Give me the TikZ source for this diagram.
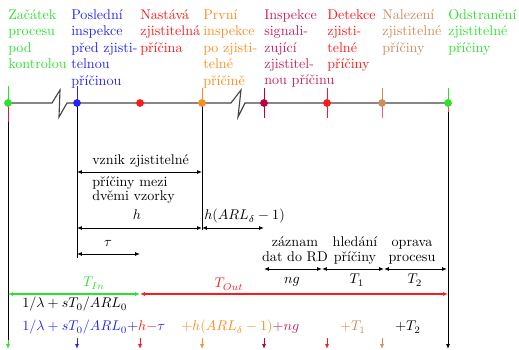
\documentclass[tikz,border=0pt]{standalone}
\usepackage{fontspec}
\usetikzlibrary{arrows.meta}
\definecolor{cgreen}{RGB}{45,225,45}
\definecolor{cblue}{RGB}{35,35,255}
\definecolor{cred}{RGB}{255,25,25}
\definecolor{corange}{RGB}{255,140,30}
\definecolor{crasp}{RGB}{205,30,90}
\definecolor{craspd}{RGB}{185,0,60}
\definecolor{ctan}{RGB}{205,140,90}
\definecolor{cline}{RGB}{70,70,70}
\tikzset{
  x=0.71pt, y=-0.71pt,
  toplabel/.style={anchor=north west, inner sep=0pt, align=left, font=\fontsize{10}{11.7}\selectfont},
  midlabel/.style={inner sep=0pt, align=left, font=\fontsize{10}{10.5}\selectfont},
  dimarrow/.style={{Latex[length=3.5pt,width=2.8pt]}-{Latex[length=3.5pt,width=2.8pt]}, line width=0.6pt},
  downarrow/.style={-{Latex[length=3.5pt,width=2.8pt]}, line width=0.6pt},
  vline/.style={line width=0.6pt, black},
  tick/.style={line width=0.7pt},
  dot/.style={circle, inner sep=0pt, minimum size=5.5pt}
}
\begin{document}
\begin{tikzpicture}
\useasboundingbox (0,0) rectangle (519,350);
% points
\coordinate (p1) at (8,103);
\coordinate (p2) at (77,103);
\coordinate (p3) at (140,103);
\coordinate (p4) at (202,103);
\coordinate (p5) at (264,103);
\coordinate (p6) at (327,103);
\coordinate (p7) at (382,103);
\coordinate (p8) at (448,103);
% main line with breaks
\coordinate (z1a) at (52,103); \coordinate (z1b) at (60,90); \coordinate (z1c) at (59,117); \coordinate (z1d) at (67,103);
\coordinate (z2a) at (231,103); \coordinate (z2b) at (241,90); \coordinate (z2c) at (238,117); \coordinate (z2d) at (245,103);
\draw[cline, line width=0.8pt] (p1) -- (z1a) -- (z1b) -- (z1c) -- (z1d) -- (z2a) -- (z2b) -- (z2c) -- (z2d) -- (p8);
% black verticals
\coordinate (b1) at (8,340);
\coordinate (b2) at (77,258);
\coordinate (b4) at (202,230);
\coordinate (b8) at (448,340);
\draw[vline] (p1) -- (b1);
\draw[vline] (p2) -- (b2);
\draw[vline] (p4) -- (b4);
\draw[vline] (p8) -- (b8);
% ticks
\draw[tick, cgreen] (8,86) -- (p1);
\draw[tick, crasp] (p1) -- (8,122);
\draw[tick, cblue] (77,86) -- (p2);
\draw[tick, corange] (202,88) -- (p4);
\draw[tick, craspd] (264,88) -- (264,118);
\draw[tick, cred] (327,88) -- (327,118);
\draw[tick, ctan] (382,88) -- (p7);
\draw[tick, crasp!70] (p7) -- (382,118);
\draw[tick, cgreen] (448,88) -- (p8);
\draw[tick, cred!80] (p8) -- (448,112);
% dots
\node[dot, fill=cgreen] (d1) at (p1) {};
\node[dot, fill=cblue] (d2) at (p2) {};
\node[dot, fill=cred] (d3) at (p3) {};
\node[dot, fill=corange] (d4) at (p4) {};
\node[dot, fill=craspd] (d5) at (p5) {};
\node[dot, fill=cred] (d6) at (p6) {};
\node[dot, fill=ctan] (d7) at (p7) {};
\node[dot, fill=cgreen] (d8) at (p8) {};
% top labels
\node[toplabel, text=cgreen] (l1) at (8,9) {Začátek\\procesu\\pod\\kontrolou};
\node[toplabel, text=cblue] (l2) at (71,9) {Poslední\\inspekce\\před zjisti-\\telnou\\příčinou};
\node[toplabel, text=cred] (l3) at (140,9) {Nastává\\zjistitelná\\příčina};
\node[toplabel, text=corange] (l4) at (203,9) {První\\inspekce\\po zjisti-\\telné\\příčině};
\node[toplabel, text=crasp] (l5) at (264,9) {Inspekce\\signali-\\zující\\zjistitel-\\nou příčinu};
\node[toplabel, text=cred] (l6) at (327,9) {Detekce\\zjisti-\\telné\\příčiny};
\node[toplabel, text=ctan] (l7) at (382,9) {Nalezení\\zjistitelné\\příčiny};
\node[toplabel, text=cgreen] (l8) at (448,9) {Odstranění\\zjistitelné\\příčiny};
% vznik arrow
\coordinate (a1l) at (77,172); \coordinate (a1r) at (202,172);
\draw[dimarrow] (a1l) -- (a1r);
\node[midlabel, anchor=base west] (t1) at (92,165) {vznik zjistitelné};
\node[midlabel, anchor=north west] (t2) at (92,176) {příčiny mezi\\dvěmi vzorky};
% h arrow
\coordinate (a2l) at (77,228); \coordinate (a2r) at (202,228); \coordinate (a3r) at (264,228);
\draw[dimarrow] (a2l) -- (a2r);
\draw[dimarrow] (a2r) -- (a3r);
\node[midlabel, anchor=base] (th) at (137,220) {$h$};
\node[midlabel, anchor=base west] (tharl) at (204,220) {$h(ARL_\delta-1)$};
% tau arrow
\coordinate (a4l) at (77,254); \coordinate (a4r) at (140,254);
\draw[dimarrow] (a4l) -- (a4r);
\node[midlabel, anchor=base] (ttau) at (108,247) {$\tau$};
% ng, T1, T2
\coordinate (c1) at (264,269); \coordinate (c2) at (322,269); \coordinate (c3) at (384,269); \coordinate (c4) at (447,269);
\draw[dimarrow] (c1) -- (c2);
\draw[dimarrow] (c2) -- (c3);
\draw[dimarrow] (c3) -- (c4);
\node[midlabel, anchor=north, align=center] (tz) at (295,236) {\strut záznam\\dat do RD};
\node[midlabel, anchor=north, align=center] (th2) at (355,236) {\strut hledání\\příčiny};
\node[midlabel, anchor=north, align=center] (to) at (412,236) {\strut oprava\\procesu};
\node[midlabel, anchor=base] (tng) at (292,284) {$ng$};
\node[midlabel, anchor=base] (tt1) at (357,284) {$T_1$};
\node[midlabel, anchor=base] (tt2) at (415,284) {$T_2$};
% T_In, T_Out
\coordinate (g1) at (8,294); \coordinate (g2) at (140,294); \coordinate (g3) at (448,294);
\draw[dimarrow, cgreen, line width=0.9pt] (g1) -- (g2);
\draw[dimarrow, cred, line width=0.9pt] (g2) -- (g3);
\node[midlabel, anchor=base, text=cgreen] (tin) at (94,287) {$T_{In}$};
\node[midlabel, anchor=base, text=cred] (tout) at (229,288) {$T_{Out}$};
% formulas
\node[midlabel, anchor=base west] (f1) at (22,308) {$1/\lambda+sT_0/ARL_0$};
\node[midlabel, anchor=base west] (f2) at (22,331) {\textcolor{cblue}{$1/\lambda+sT_0/ARL_0+$}\textcolor{cred}{$h-$}\textcolor{cblue}{$\tau$}};
\node[midlabel, anchor=base west] (f3) at (181,331) {\textcolor{corange}{$+h(ARL_\delta-1)$}\textcolor{crasp}{$+ng$}};
\node[midlabel, anchor=base west, text=ctan] (f4) at (340,331) {$+T_1$};
\node[midlabel, anchor=base west] (f5) at (395,331) {$+T_2$};
% bottom arrows
\coordinate (e1) at (8,349); \coordinate (e2) at (77,349); \coordinate (e3) at (140,349); \coordinate (e4) at (202,349);
\coordinate (e5) at (264,349); \coordinate (e6) at (327,349); \coordinate (e7) at (382,349); \coordinate (e8) at (448,349);
\draw[downarrow, cgreen] (b1) -- (e1);
\draw[downarrow, cblue] (77,338) -- (e2);
\draw[downarrow, cred] (140,338) -- (e3);
\draw[downarrow, corange] (202,338) -- (e4);
\draw[downarrow, craspd] (264,338) -- (e5);
\draw[downarrow, cred] (327,338) -- (e6);
\draw[downarrow, ctan] (382,338) -- (e7);
\draw[downarrow, black] (b8) -- (e8);
\end{tikzpicture}
\end{document}
